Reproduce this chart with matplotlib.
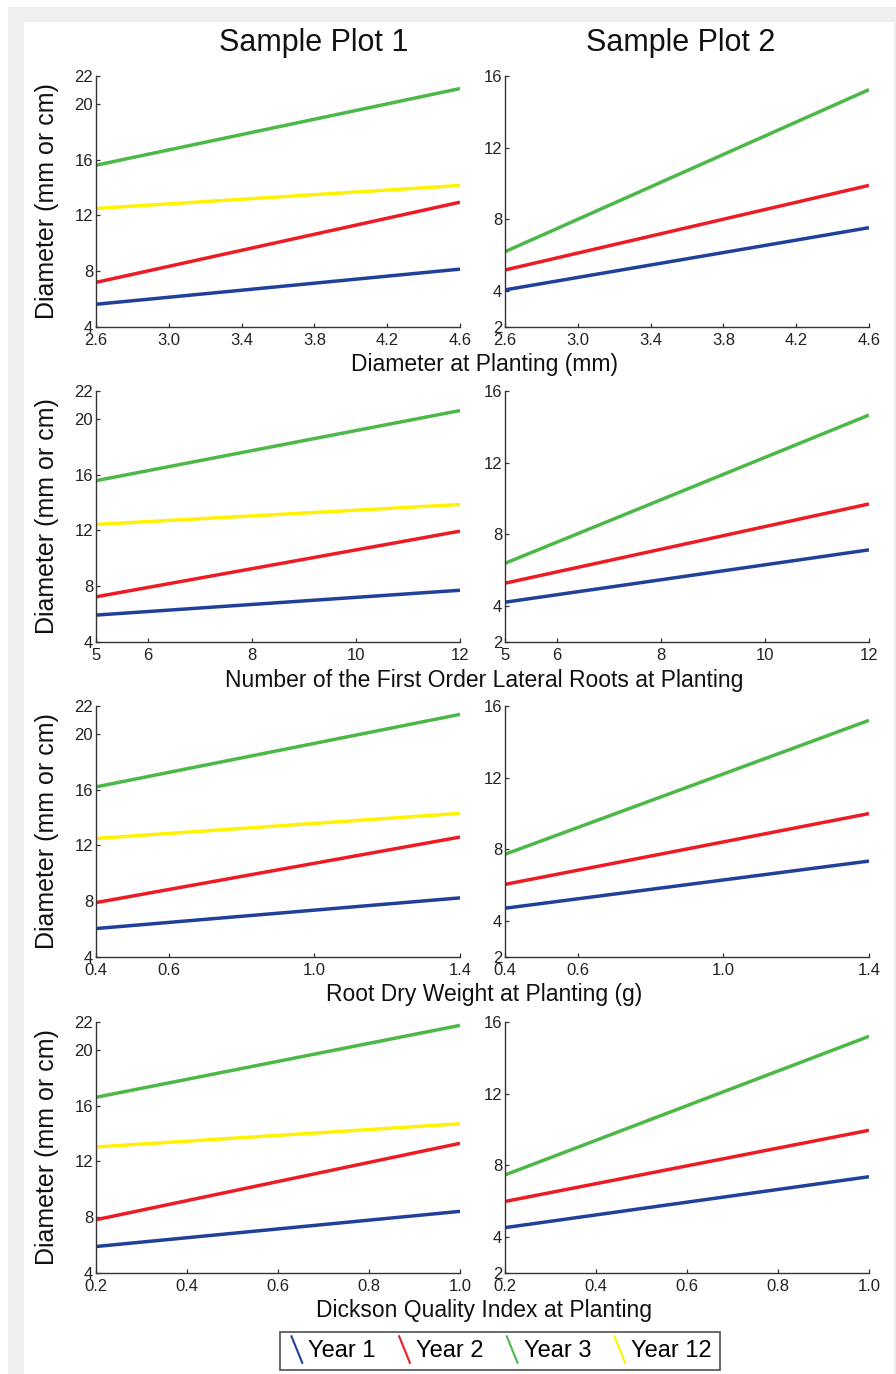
import matplotlib
matplotlib.use("Agg")
import matplotlib.pyplot as plt
from matplotlib.lines import Line2D
from matplotlib.patches import Rectangle
from matplotlib.legend_handler import HandlerBase

plt.rcParams['font.family'] = ['Liberation Sans', 'DejaVu Sans']

# predictor ranges and axis labels, one entry per row
x_ranges = [[2.6, 4.6], [5, 12], [0.4, 1.4], [0.2, 1.0]]
x_ticks = [[2.6, 3.0, 3.4, 3.8, 4.2, 4.6], [5, 6, 8, 10, 12],
           [0.4, 0.6, 1.0, 1.4], [0.2, 0.4, 0.6, 0.8, 1.0]]
x_tick_labels = [['2.6', '3.0', '3.4', '3.8', '4.2', '4.6'], ['5', '6', '8', '10', '12'],
                 ['0.4', '0.6', '1.0', '1.4'], ['0.2', '0.4', '0.6', '0.8', '1.0']]
x_titles = ['Diameter at Planting (mm)',
            'Number of the First Order Lateral Roots at Planting',
            'Root Dry Weight at Planting (g)',
            'Dickson Quality Index at Planting']

years = ['Year 1', 'Year 2', 'Year 3', 'Year 12']
colors = ['#21409a', '#ed1c24', '#4cb848', '#fff200']

# fitted line end values (at x min, x max) for Sample Plot 1
plot1_year1 = [[5.63, 8.15], [5.93, 7.71], [6.04, 8.24], [5.90, 8.42]]
plot1_year2 = [[7.20, 12.95], [7.24, 11.95], [7.90, 12.60], [7.82, 13.30]]
plot1_year3 = [[15.60, 21.10], [15.57, 20.60], [16.20, 21.40], [16.60, 21.76]]
plot1_year12 = [[12.50, 14.15], [12.43, 13.86], [12.50, 14.30], [13.04, 14.70]]

# Sample Plot 2 (no Year 12 data)
plot2_year1 = [[4.07, 7.54], [4.22, 7.14], [4.72, 7.35], [4.53, 7.37]]
plot2_year2 = [[5.18, 9.90], [5.28, 9.70], [6.05, 10.00], [5.99, 9.96]]
plot2_year3 = [[6.20, 15.24], [6.39, 14.66], [7.73, 15.20], [7.47, 15.20]]

plot1 = [plot1_year1, plot1_year2, plot1_year3, plot1_year12]
plot2 = [plot2_year1, plot2_year2, plot2_year3]

ylim1, yticks1 = (4, 22), [4, 8, 12, 16, 20, 22]
ylim2, yticks2 = (2, 16), [2, 4, 8, 12, 16]


class SlashHandler(HandlerBase):
    # legend key drawn as a short diagonal stroke
    def create_artists(self, legend, orig_handle, xdescent, ydescent, width, height, fontsize, trans):
        x0, y0 = -xdescent, -ydescent
        line = Line2D([x0 + 0.2 * width, x0 + 0.85 * width],
                      [y0 + 1.25 * height, y0 - 0.35 * height],
                      color=orig_handle.get_color(), lw=1.5, transform=trans)
        return [line]


W, H = 896, 1374
fig = plt.figure(figsize=(W / 100, H / 100), dpi=100)

# grey frame around the panel
fig.patches.append(Rectangle((8 / W, 0), 1, 1 - 7 / H, transform=fig.transFigure,
                             facecolor='#efefef', edgecolor='none', zorder=-10))
fig.patches.append(Rectangle((24 / W, 0), (894 - 24) / W, 1 - 22 / H, transform=fig.transFigure,
                             facecolor='white', edgecolor='none', zorder=-9))

row_bottoms = [327, 642, 957, 1273]
ax_h = 251
lefts = [96, 505]
ax_w = 364
xlabel_y = [365, 680, 994, 1310]


def style(ax, xr, xt, xtl, ylim, yt):
    ax.set_xlim(xr)
    ax.set_ylim(ylim)
    ax.set_xticks(xt)
    ax.set_xticklabels(xtl)
    ax.set_yticks(yt)
    ax.spines['top'].set_visible(False)
    ax.spines['right'].set_visible(False)
    for s in ['left', 'bottom']:
        ax.spines[s].set_color('#333333')
        ax.spines[s].set_linewidth(1.0)
    ax.tick_params(direction='in', length=3, width=0.9, colors='#333333',
                   labelsize=12, labelcolor='#222222')
    ax.tick_params(axis='y', pad=2)
    ax.tick_params(axis='x', pad=4.5)
    ax.patch.set_alpha(0)


for r in range(4):
    b = 1 - row_bottoms[r] / H
    ax1 = fig.add_axes([lefts[0] / W, b, ax_w / W, ax_h / H])
    ax2 = fig.add_axes([lefts[1] / W, b, ax_w / W, ax_h / H])
    for k, series in enumerate(plot1):
        ax1.plot(x_ranges[r], series[r], color=colors[k], lw=2.5, solid_capstyle='butt')
    for k, series in enumerate(plot2):
        ax2.plot(x_ranges[r], series[r], color=colors[k], lw=2.5, solid_capstyle='butt')
    style(ax1, x_ranges[r], x_ticks[r], x_tick_labels[r], ylim1, yticks1)
    style(ax2, x_ranges[r], x_ticks[r], x_tick_labels[r], ylim2, yticks2)

    fig.text(47 / W, b + ax_h / H / 2, 'Diameter (mm or cm)', rotation=90,
             ha='center', va='center', fontsize=18, color='#111111')
    fig.text(484 / W, 1 - xlabel_y[r] / H, x_titles[r], ha='center', va='center',
             fontsize=16.5, color='#111111')

fig.text(314 / W, 1 - 43 / H, 'Sample Plot 1', ha='center', va='center', fontsize=22, color='#111111')
fig.text(681 / W, 1 - 43 / H, 'Sample Plot 2', ha='center', va='center', fontsize=22, color='#111111')

handles = [Line2D([], [], color=c) for c in colors]
leg = fig.legend(handles, years, loc='center', bbox_to_anchor=(500 / W, 1 - 1351 / H),
                 ncol=4, fontsize=17, frameon=True, fancybox=False,
                 handler_map={Line2D: SlashHandler()},
                 handlelength=0.7, handletextpad=0.15, columnspacing=0.85,
                 borderpad=0.35, borderaxespad=0)
leg.get_frame().set_edgecolor('#222222')
leg.get_frame().set_linewidth(1.2)

fig.savefig('out.png', dpi=100)
